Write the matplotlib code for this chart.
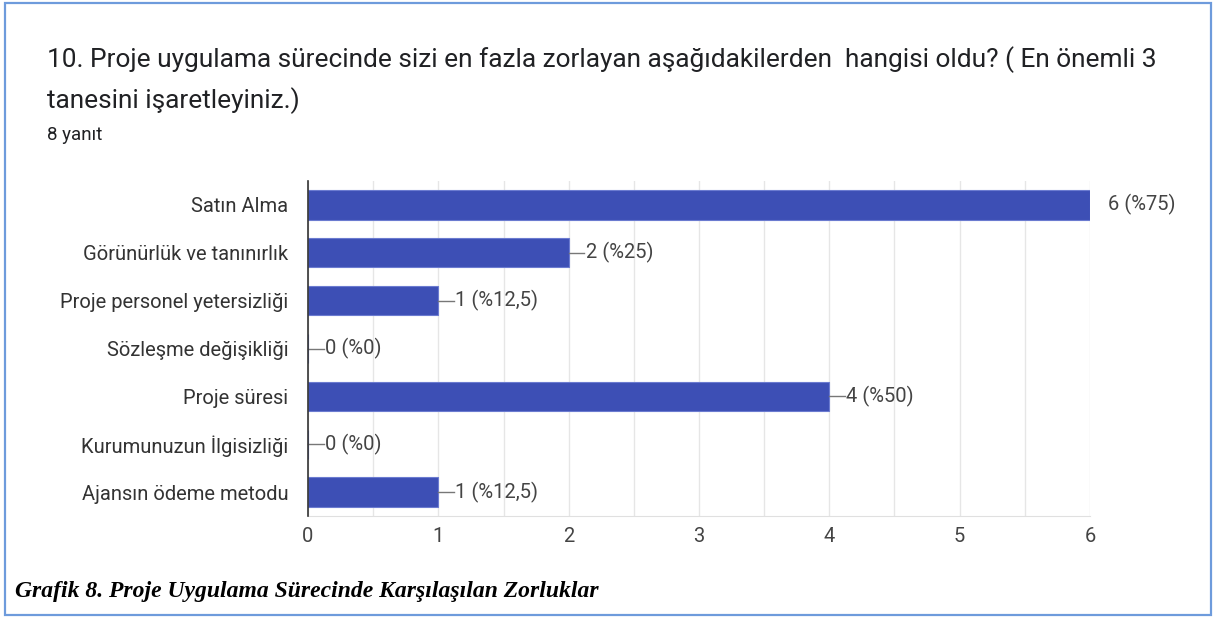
import matplotlib
matplotlib.use('Agg')
import matplotlib.pyplot as plt
from matplotlib.patches import Rectangle

categories = ['Satın Alma', 'Görünürlük ve tanınırlık', 'Proje personel yetersizliği',
              'Sözleşme değişikliği', 'Proje süresi', 'Kurumunuzun İlgisizliği',
              'Ajansın ödeme metodu']
counts = [6, 2, 1, 0, 4, 0, 1]
percents = ['75', '25', '12,5', '0', '50', '0', '12,5']
x_ticks = [0, 1, 2, 3, 4, 5, 6]

plt.rcParams['font.family'] = ['Roboto', 'DejaVu Sans']

fig = plt.figure(figsize=(12.17, 6.18), dpi=100)
fig.patch.set_facecolor('white')

# blue frame around the whole picture
fig.patches.append(Rectangle((5 / 1217, 3 / 618), 1206 / 1217, 612 / 618, transform=fig.transFigure,
                             fill=False, edgecolor='#6e9bdc', linewidth=1.6))

fig.text(47 / 1217, 1 - 60 / 618,
         '10. Proje uygulama sürecinde sizi en fazla zorlayan aşağıdakilerden  hangisi oldu? ( En önemli 3',
         fontsize=18.9, color='#202124', va='center', ha='left')
fig.text(47 / 1217, 1 - 101 / 618, 'tanesini işaretleyiniz.)',
         fontsize=18.9, color='#202124', va='center', ha='left')
fig.text(47 / 1217, 1 - 135 / 618, '8 yanıt', fontsize=13.5, color='#202124', va='center', ha='left')

fig.text(15 / 1217, 1 - 591 / 618, 'Grafik 8. Proje Uygulama Sürecinde Karşılaşılan Zorluklar',
         family=['Liberation Serif', 'DejaVu Serif'], fontsize=17, fontweight='bold', style='italic',
         color='black', va='center', ha='left')

ax = fig.add_axes([308 / 1217, 1 - 516 / 618, 782 / 1217, 335 / 618])
y = list(range(len(categories)))
ax.barh(y, counts, height=0.61, color='#3d4fb5', edgecolor='#6b7bd0', linewidth=0.8, zorder=3)
ax.set_ylim(len(categories) - 0.5, -0.5)
ax.set_xlim(0, 6)
ax.set_yticks(y)
ax.set_yticklabels(categories, fontsize=14.5, color='#333333')
ax.set_xticks(x_ticks)
ax.set_xticklabels([str(t) for t in x_ticks], fontsize=14.5, color='#444444')
ax.set_xticks([t + 0.5 for t in x_ticks[:-1]], minor=True)
ax.tick_params(axis='both', length=0, which='both')
ax.tick_params(axis='y', pad=14)
ax.tick_params(axis='x', pad=8)
ax.grid(axis='x', which='both', color='#e6e6e6', linewidth=1, zorder=0)
for s in ['top', 'right']:
    ax.spines[s].set_visible(False)
ax.spines['bottom'].set_color('#e0e0e0')
ax.spines['left'].set_color('#333333')
ax.spines['left'].set_linewidth(1.2)
ax.spines['left'].set_zorder(4)

for i, (c, p) in enumerate(zip(counts, percents)):
    lead = 0.12
    if c < max(counts):
        ax.plot([c, c + lead], [i, i], color='#777777', linewidth=1, clip_on=False, zorder=4)
    ax.text(c + lead + 0.01 if c < max(counts) else c + 0.14, i, f'{c} (%{p})', fontsize=14.5,
            color='#444444', va='center', ha='left', clip_on=False)

fig.savefig('out.png', dpi=100)
